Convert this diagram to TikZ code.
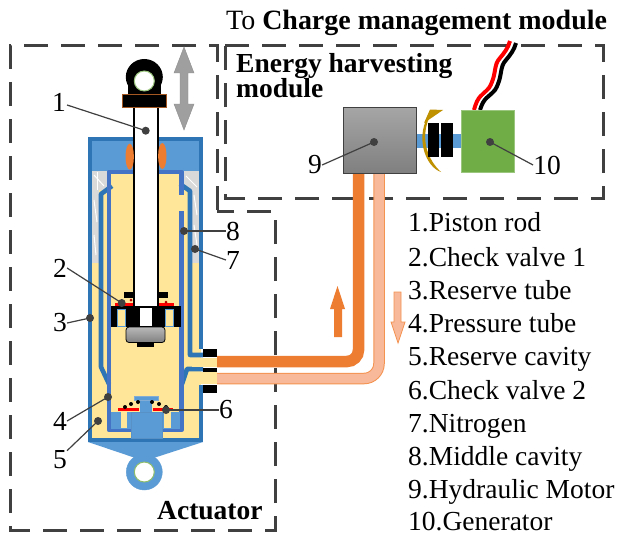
\documentclass[tikz,border=0pt]{standalone}
\usepackage{fontspec}
\setmainfont{Liberation Serif}
\usetikzlibrary{arrows.meta,shadings}
\definecolor{wallblue}{HTML}{2E75B6}
\definecolor{fillblue}{HTML}{5B9BD5}
\definecolor{tubeblue}{HTML}{4472C4}
\definecolor{oil}{HTML}{FFE699}
\definecolor{hotoil}{HTML}{ED7D31}
\definecolor{coldoil}{HTML}{F8B89A}
\definecolor{coldedge}{HTML}{F4924F}
\definecolor{lead}{HTML}{404040}
\definecolor{dashgray}{HTML}{404040}
\definecolor{marble}{HTML}{D9D9D9}
\definecolor{gengreen}{HTML}{70AD47}
\definecolor{gold}{HTML}{BF9000}
\tikzset{
  x=1pt,y=-1pt,
  txt/.style={font=\fontsize{27.5}{30}\selectfont,inner sep=0pt,text=black},
  listitem/.style={txt,anchor=base west},
  boldtxt/.style={font=\fontsize{27.5}{30}\selectfont\bfseries,inner sep=0pt,anchor=base west},
  num/.style={txt},
  dashbox/.style={draw=dashgray,line width=3pt,dash pattern=on 24pt off 13pt},
  leadline/.style={draw=lead,line width=1.2pt},
  dot/.style={circle,fill=lead,inner sep=0pt,minimum size=8pt},
  tube/.style={draw=tubeblue,line width=4.6pt,line join=round},
  wall/.style={draw=wallblue,line width=4.6pt,line join=round},
  blk/.style={fill=black,draw=none},
}
\begin{document}
\begin{tikzpicture}
\useasboundingbox (0,0) rectangle (617,532);
\fill[white] (0,0) rectangle (617,532);

% dashed frames
\draw[dashbox] (217,210) -- (217,46) -- (10,46) -- (10,530) -- (275,530) -- (275,211) -- (217,211);
\draw[dashbox] (225,46) -- (603,46) -- (603,198) -- (225,198) -- cycle;

% grey stroke arrow
\fill[gray!75,draw=gray!90] (184,47) -- (194,73) -- (188,73) -- (188,104) -- (194,104) -- (184,130) -- (174,104) -- (180,104) -- (180,73) -- (174,73) -- cycle;

% body
\fill[oil] (90,139) rectangle (201,438);
\fill[fillblue] (90,139) rectangle (201,172);
% nitrogen / reserve gas
\fill[marble] (92,171) rectangle (107,190);
\fill[marble] (92,171) rectangle (99,263);
\fill[marble] (184,171) rectangle (199,190);
\fill[marble] (192,171) rectangle (199,263);
\foreach \xa/\ya/\xb/\yb in {94/175/104/186,97/172/97/190,186/176/197/187,194/195/197/215,194/225/197/245,94/200/97/222,94/235/96/255}
  \draw[white,line width=1pt] (\xa,\ya) -- (\xb,\yb);

% bottom lug
\fill[fillblue,draw=fillblue] (144.3,472) circle (18);
\fill[fillblue] (88,442) -- (203,442) -- (144.3,461) -- cycle;
\fill[white,draw=gengreen!80!white,line width=1pt] (144.3,472) circle (10);

% walls
\draw[wall] (90,137) -- (90,440);
\draw[wall] (201,137) -- (201,349);
\draw[wall] (201,385) -- (201,440);
\draw[wall] (88,139) -- (203,139);
\draw[wall] (88,440) -- (203,440);

% reserve tube inner
\draw[wall] (112,186) -- (101,194) -- (101,367) -- (109,384);
\draw[wall] (180,184) -- (190,191) -- (190,355) -- (203,355);
\draw[wall] (182,384) -- (187,369) -- (203,369);

% pressure tube
\draw[tube] (181.5,211) -- (181.5,430) -- (109,430) -- (109,172) -- (133,172);
\draw[tube] (158,172) -- (181.5,172) -- (181.5,195);

% outlet channels
\fill[oil] (192,357.5) rectangle (217,367);
\fill[oil] (190,371.5) rectangle (217,384);
\fill[blk] (203,349) rectangle (217,357);
\fill[blk] (203,367.5) rectangle (217,372);
\fill[blk] (203,385) rectangle (217,393);

% piston rod
\fill[white] (133,108) rectangle (158,306);
\draw[black,line width=2pt] (133.5,107) -- (133.5,306);
\draw[black,line width=2pt] (158,107) -- (158,306);

% rod eye
\fill[black] (144.3,77) ellipse (18.5 and 18);
\fill[blk] (128,85) rectangle (161,96);
\fill[white,draw=gengreen!70!white,line width=1pt] (144.3,81) circle (10);
\fill[black,draw=hotoil!70!black,line width=.7pt] (122.7,94) rectangle (166.7,107.7);

% seals
\fill[hotoil] (129.7,156.7) ellipse (4.2 and 13);
\fill[hotoil] (162.3,156) ellipse (4.2 and 13);

% piston
\fill[blk] (124,292) rectangle (133,298);
\fill[blk] (158,292) rectangle (168,298);
\fill[red] (115,303) rectangle (133,306);
\fill[red] (159,303) rectangle (174,306);
\fill[blk] (111,306) rectangle (181,327);
\fill[oil,draw=fillblue,line width=.8pt] (117,309) rectangle (125,326);
\fill[oil,draw=fillblue,line width=.8pt] (165,309) rectangle (173,326);
\fill[white] (140,308) rectangle (152,326);
\fill[blk] (137,342) rectangle (154,347);
\shade[top color=gray!55,bottom color=gray!100!black,draw=black,line width=.8pt,rounded corners=3pt] (126,327) rectangle (165,342.5);
\foreach \p in {(131,300),(166,302)} \fill[red!70!black] \p circle (1.5);

% check valve 2
\fill[fillblue] (111,412) rectangle (180,429);
\fill[oil] (121,412) rectangle (127,428);
\fill[oil] (164,412) rectangle (171,428);
\fill[fillblue,draw=wallblue!80,line width=.5pt] (131,412) rectangle (162,438);
\fill[fillblue] (140,400) rectangle (152,412);
\fill[fillblue,draw=wallblue!60,line width=.5pt] (134,396) rectangle (158,400);
\fill[red] (118,408) rectangle (139,411);
\fill[red] (153,408) rectangle (173,411);
\foreach \p in {(125,407),(131,404),(138,402),(152,402),(159,404),(166,407)} \fill[black] \p circle (2);

% hoses
\draw[coldedge,line width=11.5pt] (217,378.5) -- (364,378.5) arc[start angle=90,end angle=0,radius=15] -- (379,173);
\draw[coldoil,line width=9.5pt] (217,378.5) -- (364,378.5) arc[start angle=90,end angle=0,radius=15] -- (379,173);
\draw[hotoil,line width=11.5pt] (217,361.5) -- (347,361.5) arc[start angle=90,end angle=0,radius=11.5] -- (358.5,173);

% flow arrows
\fill[hotoil] (337.5,286) -- (345,309) -- (342,309) -- (342,337) -- (334,337) -- (334,309) -- (330,309) -- cycle;
\fill[coldoil,draw=coldedge,line width=.8pt] (394,292) -- (401,292) -- (401,322) -- (405,322) -- (398,343) -- (391,322) -- (394,322) -- cycle;

% energy harvesting parts
\fill[fillblue] (416,134) rectangle (461,148);
\fill[gold] (441,172) .. controls (426,167) and (416,140) .. (427,118) -- (429,118) .. controls (420,140) and (428,160) .. (441,172) -- cycle;
\fill[gold] (443,110) -- (430,109.5) -- (424,123) -- cycle;
\fill[blk] (428,123) rectangle (439,157);
\fill[blk] (441,123) rectangle (453,157);
\shade[top color=gray!70,bottom color=gray,draw=black!75,line width=1pt] (343,107) rectangle (416,173);
\draw[red,line width=4pt] (474,110) .. controls (478,95) and (482,96) .. (489,88) .. controls (497,75) and (493,65) .. (500,58) .. controls (505,52) and (508,48) .. (510,41);
\draw[white,line width=1pt] (477,110) .. controls (481,96) and (485,97) .. (492,89) .. controls (500,76) and (496,66) .. (503,59) .. controls (508,53) and (511,49) .. (513,42);
\draw[black,line width=4pt] (480,110) .. controls (484,97) and (488,98) .. (495,90) .. controls (503,77) and (499,67) .. (506,60) .. controls (511,54) and (514,50) .. (516,43);
\fill[gengreen,draw=gengreen!70!white,line width=.7pt] (461,110) rectangle (514,172);

% texts
\node[txt,anchor=base west,font=\fontsize{27.95}{30}\selectfont] (title) at (226,30) {To \textbf{Charge management module}};
\node[boldtxt] (eh1) at (236,73) {Energy harvesting};
\node[boldtxt] (eh2) at (236,97) {module};
\node[boldtxt] (act) at (157,519) {Actuator};

\node[listitem] (l1) at (408,231) {1.Piston rod};
\node[listitem] (l2) at (408,266) {2.Check valve 1};
\node[listitem] (l3) at (408,299) {3.Reserve tube};
\node[listitem] (l4) at (408,332) {4.Pressure tube};
\node[listitem] (l5) at (408,365) {5.Reserve cavity};
\node[listitem] (l6) at (408,399) {6.Check valve 2};
\node[listitem] (l7) at (408,432) {7.Nitrogen};
\node[listitem] (l8) at (408,465) {8.Middle cavity};
\node[listitem] (l9) at (408,498) {9.Hydraulic Motor};
\node[listitem] (l10) at (408,530) {\smash{10.Generator}};

% callouts
\node[num] (n1) at (59,102) {1};
\node[num] (n2) at (60,268) {2};
\node[num] (n3) at (60,323) {3};
\node[num] (n4) at (60,421) {4};
\node[num] (n5) at (60,460) {5};
\node[num] (n6) at (226,410) {6};
\node[num] (n7) at (233,260) {7};
\node[num] (n8) at (233,231) {8};
\node[num] (n9) at (315,165) {9};
\node[num] (n10) at (547,165) {10};

\node[dot] (d1) at (145.7,130.7) {};
\node[dot] (d2) at (121.7,303) {};
\node[dot] (d3) at (90,318) {};
\node[dot] (d4) at (108,397) {};
\node[dot] (d5) at (98,421) {};
\node[dot] (d6) at (166,410) {};
\node[dot] (d7) at (195,249) {};
\node[dot] (d8) at (184,231) {};
\node[dot] (d9) at (374,142) {};
\node[dot] (d10) at (490,142) {};

\draw[leadline] (n1.east) ++(1,3) coordinate (c1) (c1) -- (d1.center);
\draw[leadline] (n2.east) -- (d2.center);
\draw[leadline] (n3.east) -- (d3.center);
\draw[leadline] (n4.east) -- (d4.center);
\draw[leadline] (n5.north east) -- (d5.center);
\draw[leadline] (n6.west) -- (d6.center);
\draw[leadline] (n7.west) -- (d7.center);
\draw[leadline] (n8.west) -- (d8.center);
\draw[leadline] (n9.east) -- (d9.center);
\draw[leadline] (n10.west) -- (d10.center);
\end{tikzpicture}
\end{document}
